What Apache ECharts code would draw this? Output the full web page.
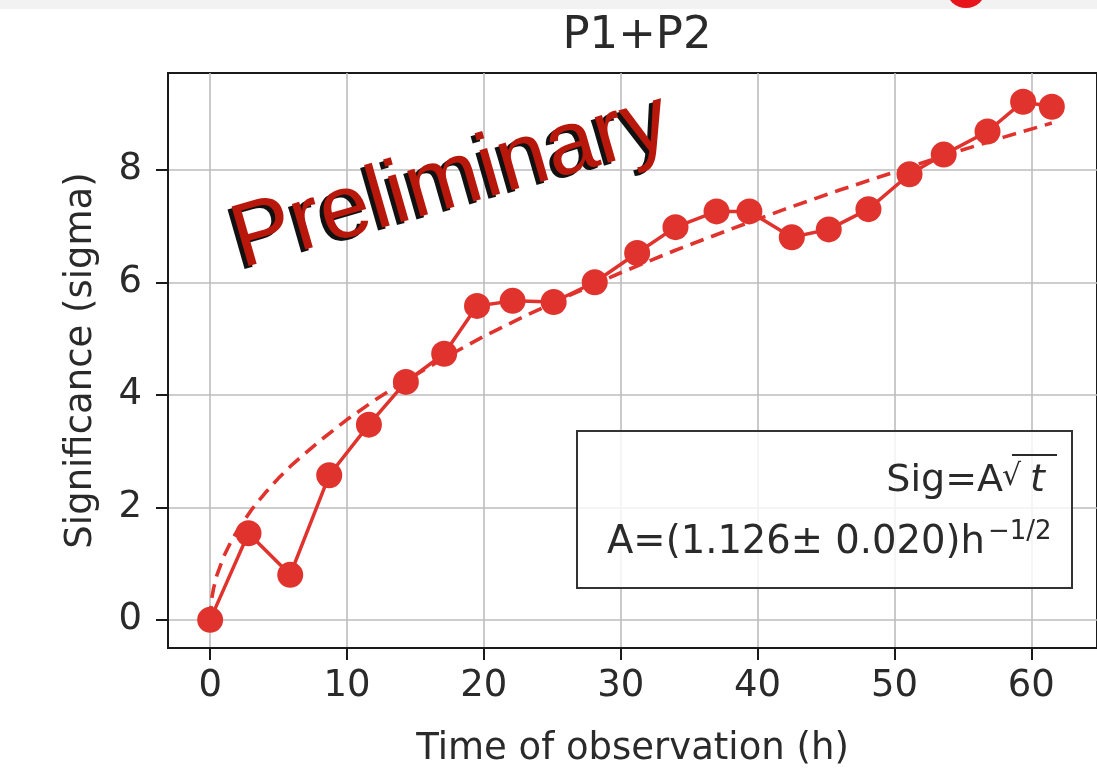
<!DOCTYPE html>
<html><head><meta charset="utf-8">
<script src="https://cdn.jsdelivr.net/npm/echarts@6/dist/echarts.min.js"></script>
<style>html,body{margin:0;padding:0;background:#fff}#c{width:1097px;height:773px}</style>
</head><body><div id="c"></div>
<script>
// ---- data ----
const titleText = 'P1+P2';
const xAxisName = 'Time of observation (h)';
const yAxisName = 'Significance (sigma)';
const xTicks = [0, 10, 20, 30, 40, 50, 60];
const yTicks = [0, 2, 4, 6, 8];
// observed significance vs time (hours)
const obsTime = [0, 2.8, 5.85, 8.7, 11.6, 14.3, 17.1, 19.5, 22.1, 25.1, 28.1, 31.2, 34.0, 37.0, 39.4, 42.5, 45.2, 48.1, 51.1, 53.6, 56.8, 59.4, 61.5];
const obsSig  = [0, 1.54, 0.80, 2.57, 3.47, 4.23, 4.73, 5.58, 5.67, 5.65, 6.00, 6.52, 6.98, 7.26, 7.26, 6.80, 6.94, 7.30, 7.92, 8.27, 8.68, 9.21, 9.12];
// dashed fit curve Sig = A*sqrt(t)
const fitTime = [0, 0.1, 0.25, 0.5, 1, 1.5, 2, 3, 4, 5, 6, 8, 10, 12, 14, 17, 20, 23, 26, 30, 34, 38, 42, 46, 50, 54, 58, 61.5];
const fitSig  = [0, 0.36, 0.56, 0.80, 1.13, 1.38, 1.59, 1.95, 2.25, 2.52, 2.76, 3.18, 3.56, 3.90, 4.21, 4.64, 5.04, 5.40, 5.74, 6.17, 6.57, 6.94, 7.30, 7.64, 7.96, 8.28, 8.58, 8.83];
const legendLine1 = 'Sig=A';
const legendLine2 = 'A=(1.126\u00b1 0.020)h';
const legendSup = '\u22121/2';
const watermark = 'Preliminary';

// ---- chart ----
const FONT = 'DejaVu Sans';
const TXT = '#2a2a2a';
const RED = '#e0332d';
const chart = echarts.init(document.getElementById('c'), null, {renderer: 'canvas'});

const obsData = obsTime.map((t, i) => [t, obsSig[i]]);
const fitData = fitTime.map((t, i) => [t, fitSig[i]]);

chart.setOption({
  animation: false,
  backgroundColor: '#fff',
  title: {
    text: titleText, left: 632, top: 9, textAlign: 'center',
    textStyle: {fontFamily: FONT, fontSize: 45, fontWeight: 'normal', color: TXT}
  },
  grid: {left: 168, top: 73, right: -6, height: 577, show: true, borderColor: '#1a1a1a', borderWidth: 2, backgroundColor: 'transparent'},
  xAxis: {
    type: 'value', min: -3.08, max: 64.8,
    name: xAxisName, nameLocation: 'middle', nameGap: 83,
    nameTextStyle: {fontFamily: FONT, fontSize: 37, color: TXT},
    axisLine: {show: true, onZero: false, lineStyle: {color: '#1a1a1a', width: 2}},
    axisTick: {show: true, customValues: xTicks, length: 12, lineStyle: {color: '#1a1a1a', width: 2}},
    axisLabel: {customValues: xTicks, fontFamily: FONT, fontSize: 37, color: TXT, margin: 20},
    splitLine: {show: true, lineStyle: {color: '#bdbdbd', width: 1.6}}
  },
  yAxis: {
    type: 'value', min: -0.5, max: 9.72,
    name: yAxisName, nameLocation: 'middle', nameGap: 68,
    nameTextStyle: {fontFamily: FONT, fontSize: 37, color: TXT},
    axisLine: {show: true, onZero: false, lineStyle: {color: '#1a1a1a', width: 2}},
    axisTick: {show: true, customValues: yTicks, length: 12, lineStyle: {color: '#1a1a1a', width: 2}},
    axisLabel: {customValues: yTicks, fontFamily: FONT, fontSize: 37, color: TXT, margin: 26},
    splitLine: {show: true, lineStyle: {color: '#bdbdbd', width: 1.6}}
  },
  series: [
    {
      type: 'line', data: fitData, showSymbol: false, symbol: 'none',
      smooth: false, z: 2,
      lineStyle: {color: RED, width: 3.6, type: [14, 8]}
    },
    {
      type: 'line', data: obsData, symbol: 'circle', symbolSize: 26, z: 3,
      lineStyle: {color: RED, width: 3.5},
      itemStyle: {color: RED}
    }
  ],
  graphic: [
    {type: 'rect', z: 50, shape: {x: 0, y: 0, width: 1097, height: 9}, style: {fill: '#f2f2f2'}},
    {type: 'circle', z: 51, shape: {cx: 966, cy: -12, r: 20}, style: {fill: '#e8141b'}},
    // fit legend box
    {type: 'rect', z: 50, shape: {x: 577, y: 431, width: 495, height: 157},
      style: {fill: 'rgba(255,255,255,0.8)', stroke: '#333', lineWidth: 2}},
    {type: 'text', z: 51, x: 1003, y: 481,
      style: {text: legendLine1, font: '38px "DejaVu Sans"', fill: TXT, align: 'right', textAlign: 'right', verticalAlign: 'middle', textVerticalAlign: 'middle'}},
    {type: 'text', z: 51, x: 1002, y: 477,
      style: {text: '\u221a', font: '30px "DejaVu Sans"', fill: TXT, align: 'left', textAlign: 'left', verticalAlign: 'middle', textVerticalAlign: 'middle'}},
    {type: 'line', z: 51, shape: {x1: 1012, y1: 455, x2: 1057, y2: 455}, style: {stroke: TXT, lineWidth: 2}},
    {type: 'text', z: 51, x: 1030, y: 481,
      style: {text: 't', font: 'italic 38px "DejaVu Sans"', fill: TXT, align: 'left', textAlign: 'left', verticalAlign: 'middle', textVerticalAlign: 'middle'}},
    {type: 'text', z: 51, x: 985, y: 543,
      style: {text: legendLine2, font: '38.5px "DejaVu Sans"', fill: TXT, align: 'right', textAlign: 'right', verticalAlign: 'middle', textVerticalAlign: 'middle'}},
    {type: 'text', z: 51, x: 988, y: 532,
      style: {text: legendSup, font: '26px "DejaVu Sans"', fill: TXT, align: 'left', textAlign: 'left', verticalAlign: 'middle', textVerticalAlign: 'middle'}},
    // Preliminary watermark (shadow + red)
    {type: 'text', z: 60, x: 447, y: 185, rotation: 16 * Math.PI / 180,
      style: {text: watermark, font: '90px "Liberation Sans"', fill: '#111', align: 'center', textAlign: 'center', verticalAlign: 'middle', textVerticalAlign: 'middle'}},
    {type: 'text', z: 61, x: 451, y: 182, rotation: 16 * Math.PI / 180,
      style: {text: watermark, font: '90px "Liberation Sans"', fill: '#b8180b', align: 'center', textAlign: 'center', verticalAlign: 'middle', textVerticalAlign: 'middle'}}
  ]
});
</script>
</body></html>
